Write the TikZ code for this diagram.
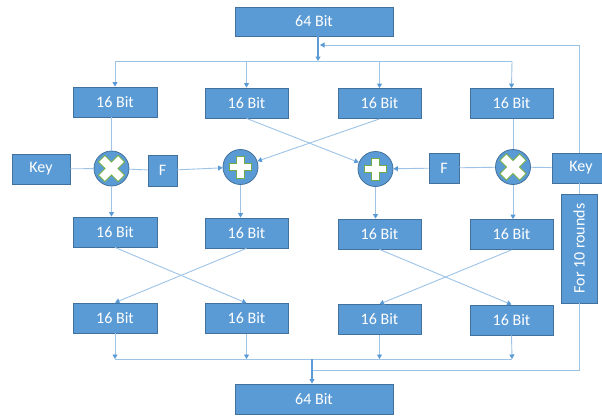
\documentclass[tikz,border=0pt]{standalone}
\usepackage{fontspec}
\setmainfont{Carlito}
\usetikzlibrary{arrows.meta}
\definecolor{boxfill}{RGB}{91,155,213}
\definecolor{boxline}{RGB}{65,113,156}
\definecolor{conn}{RGB}{157,195,230}
\definecolor{connd}{RGB}{91,155,213}
\definecolor{symgreen}{RGB}{112,173,71}
\tikzset{
  bitbox/.style={draw=boxline, line width=0.8pt, fill=boxfill, text=white, inner sep=0pt,
    font=\fontsize{16}{19}\selectfont, minimum width=83pt, minimum height=30pt},
  opcirc/.style={circle, draw=boxline, line width=0.8pt, fill=boxfill, minimum size=35pt, inner sep=0pt},
  ln/.style={draw=conn, line width=0.9pt},
  arr/.style={ln, -{Triangle[length=4.5pt,width=5pt,color=connd]}},
  darr/.style={draw=connd, line width=1.1pt, -{Triangle[length=4.5pt,width=5pt]}},
  plussym/.pic={\draw[symgreen, fill=white, line width=0.8pt, line join=miter]
    (-3.8,-11)--(3.8,-11)--(3.8,-3.8)--(11,-3.8)--(11,3.8)--(3.8,3.8)--(3.8,11)--(-3.8,11)
    --(-3.8,3.8)--(-11,3.8)--(-11,-3.8)--(-3.8,-3.8)--cycle;},
  crosssym/.pic={\draw[symgreen, fill=white, line width=0.8pt, rotate=45]
    (-4.6,-14)--(4.6,-14)--(4.6,-4.6)--(14,-4.6)--(14,4.6)--(4.6,4.6)--(4.6,14)--(-4.6,14)
    --(-4.6,4.6)--(-14,4.6)--(-14,-4.6)--(-4.6,-4.6)--cycle;}
}
\begin{document}
\begin{tikzpicture}[x=1pt,y=-1pt]
\useasboundingbox (0,0) rectangle (602,415);
% top and bottom
\node[bitbox, minimum width=158pt, minimum height=29pt] (top) at (314,21.5) {64 Bit};
\node[bitbox, minimum width=158pt] (bot) at (314,399) {64 Bit};
% row 1
\node[bitbox, minimum width=84pt] (r1a) at (115,102) {16 Bit};
\node[bitbox] (r1b) at (246.5,103) {16 Bit};
\node[bitbox] (r1c) at (379.5,103.5) {16 Bit};
\node[bitbox] (r1d) at (511.5,103.5) {16 Bit};
% row 3
\node[bitbox, minimum width=84pt] (r3a) at (115,232) {16 Bit};
\node[bitbox] (r3b) at (246.5,233) {16 Bit};
\node[bitbox] (r3c) at (379.5,234) {16 Bit};
\node[bitbox] (r3d) at (511.5,234.5) {16 Bit};
% row 4
\node[bitbox, minimum width=84pt] (r4a) at (115,318) {16 Bit};
\node[bitbox] (r4b) at (246.5,318.5) {16 Bit};
\node[bitbox] (r4c) at (379.5,319.5) {16 Bit};
\node[bitbox] (r4d) at (511.5,320) {16 Bit};
% key, F
\node[bitbox, minimum width=58pt] (keyL) at (41,169) {Key};
\node[bitbox, minimum width=58pt] (keyR) at (581,168) {Key};
\node[bitbox, minimum width=29pt, minimum height=31pt] (F1) at (162.5,170.5) {F};
\node[bitbox, minimum width=30pt] (F2) at (444,168) {F};
\node[bitbox, minimum width=36pt, minimum height=109pt] (rounds) at (579,248.5) {\rotatebox{90}{For 10 rounds}};
% operators
\node[opcirc] (c1) at (111.5,168.5) {};
\node[opcirc] (p2) at (240.5,167) {};
\node[opcirc] (p3) at (375.5,169) {};
\node[opcirc] (c4) at (513,167) {};
\pic at (c1) {crosssym};
\pic at (c4) {crosssym};
\pic at (p2) {plussym};
\pic at (p3) {plussym};
% coordinates
\coordinate (d1) at (318,61);
\coordinate (dL) at (115,61);
\coordinate (dR) at (512,61);
\coordinate (fb) at (320,45);
\coordinate (b1) at (312,359);
\coordinate (bL) at (115,359);
\coordinate (bR) at (512,359);
\coordinate (fr) at (312,370);
% top distribution
\draw[darr] (d1 |- top.south) -- (d1);
\draw[ln] (dL) -- (dR);
\draw[arr] (dL) -- (r1a.north);
\draw[arr] (r1b.north |- d1) -- (r1b.north);
\draw[arr] (r1c.north |- d1) -- (r1c.north);
\draw[arr] (dR) -- (r1d.north);
% feedback top
\draw[arr] (keyR.north -| rounds.north) -- (fb -| rounds.north) -- (fb);
\draw[ln] (rounds.north) -- (rounds.north |- keyR.south);
% column 1
\draw[ln] (c1.north |- r1a.south) -- (c1);
\draw[arr] (c1.south) -- (c1.south |- r3a.north);
\draw[ln] (keyL) -- (c1);
\draw[ln] (c1) -- (F1);
\draw[arr] (F1) -- (p2);
% crossing to plus
\draw[arr] (r1b.south) -- (p3);
\draw[arr] (r1c.south) -- (p2);
\draw[arr] (p2.south) -- (p2.south |- r3b.north);
\draw[arr] (p3.south) -- (p3.south |- r3c.north);
% column 4
\draw[ln] (c4.north |- r1d.south) -- (c4);
\draw[arr] (c4.south) -- (c4.south |- r3d.north);
\draw[ln] (keyR) -- (c4);
\draw[ln] (c4) -- (F2);
\draw[arr] (F2) -- (p3);
% row3 to row4
\draw[arr] (r3a.south) -- (r4b.north);
\draw[arr] (r3b.south) -- (r4a.north);
\draw[arr] (r3c.south) -- (r4d.north);
\draw[arr] (r3d.south) -- (r4c.north);
% bottom collection
\draw[arr] (r4a.south) -- (bL);
\draw[arr] (r4b.south) -- (r4b.south |- b1);
\draw[arr] (r4c.south) -- (r4c.south |- b1);
\draw[arr] (r4d.south) -- (bR);
\draw[ln] (bL) -- (bR);
\draw[ln] (rounds.south) -- (rounds.south |- fr) -- (fr);
\draw[darr] (b1) -- (bot.north -| b1);
\end{tikzpicture}
\end{document}
